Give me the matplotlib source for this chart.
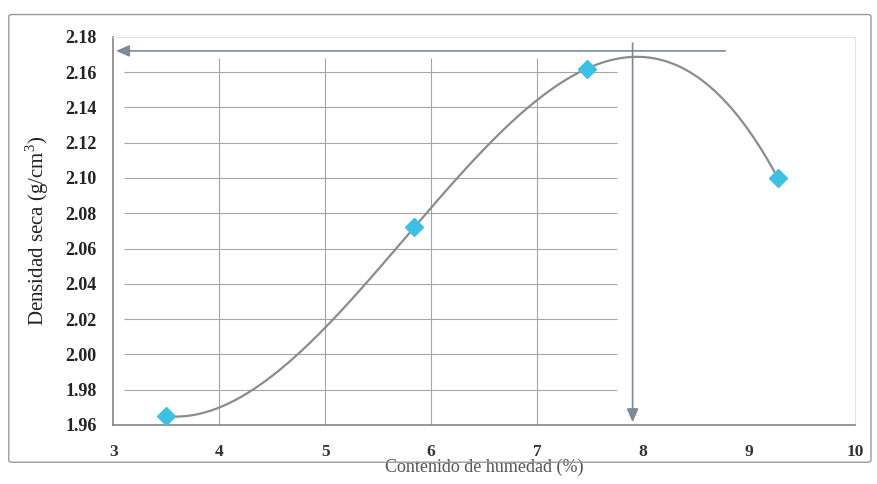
import numpy as np
import matplotlib
matplotlib.use("Agg")
import matplotlib.pyplot as plt
from matplotlib.patches import FancyBboxPatch

# ---- data ----
humedad = [3.5, 5.84, 7.47, 9.27]
densidad = [1.965, 2.072, 2.162, 2.100]
opt_humedad = 7.9
max_densidad = 2.172
x_ticks = [3, 4, 5, 6, 7, 8, 9, 10]
y_ticks = [1.96, 1.98, 2.00, 2.02, 2.04, 2.06, 2.08, 2.10, 2.12, 2.14, 2.16, 2.18]
y_tick_labels = ["1.96", "1.98", "2.00", "2.02", "2.04", "2.06", "2.08", "2.10",
                 "2.12", "2.14", "2.16", "2.18"]
x_label = "Contenido de humedad (%)"
y_label = "Densidad seca (g/cm$^3$)"

plt.rcParams['font.family'] = ['Liberation Serif', 'DejaVu Serif']
plt.rcParams['mathtext.fontset'] = 'custom'
plt.rcParams['mathtext.rm'] = 'Liberation Serif'

fig = plt.figure(figsize=(8.78, 4.84), dpi=100)
fig.patch.set_facecolor("white")
frame = FancyBboxPatch((0.010, 0.045), 0.982, 0.925, boxstyle="round,pad=0,rounding_size=0.004",
                       transform=fig.transFigure, facecolor="none", edgecolor="#9a9a9a", lw=1.0)
fig.patches.append(frame)

ax = fig.add_axes([0.129, 0.122, 0.845, 0.802])
ax.set_xlim(3, 10)
ax.set_ylim(1.96, 2.18)

# partial grid as in the scanned chart
for yv in y_ticks[1:-1]:
    ax.hlines(yv, 3.1, 7.75, color="#a5a5a5", lw=0.8, zorder=1)
for xv in [4, 5, 6, 7]:
    ax.vlines(xv, 1.96, 2.168, color="#a5a5a5", lw=0.8, zorder=1)

# smooth curve (cubic trend through the points)
coef = np.polyfit(humedad, densidad, 3)
xs = np.linspace(min(humedad), max(humedad), 300)
ax.plot(xs, np.polyval(coef, xs), color="#8c8c8c", lw=1.6, zorder=3)
ax.plot(humedad, densidad, linestyle="none", marker="D", markersize=9,
        color="#3cc0e4", markeredgecolor="#3cc0e4", zorder=4)

# arrows to axes
arrow_col = "#7d8a98"
ax.annotate("", xy=(3.0, max_densidad), xytext=(8.8, max_densidad),
            arrowprops=dict(arrowstyle="-|>,head_length=0.8,head_width=0.35",
                            color=arrow_col, lw=1.2), zorder=2)
ax.annotate("", xy=(opt_humedad, 1.96), xytext=(opt_humedad, 2.178),
            arrowprops=dict(arrowstyle="-|>,head_length=0.8,head_width=0.35",
                            color=arrow_col, lw=1.2), zorder=2)

ax.set_xticks(x_ticks)
ax.set_xticklabels([str(v) for v in x_ticks], fontsize=12.5, fontweight="bold", color="#333333")
ax.set_yticks(y_ticks)
ax.set_yticklabels(y_tick_labels, fontsize=13, fontweight="bold", color="#222222")
ax.tick_params(axis="x", length=0, pad=14)
ax.tick_params(axis="y", length=0, pad=12)

for side in ["top", "right"]:
    ax.spines[side].set_color("#e4e4e4")
for side in ["left", "bottom"]:
    ax.spines[side].set_color("#7a7a7a")
    ax.spines[side].set_linewidth(1.1)

ax.set_xlabel(x_label, fontsize=13, color="#555555", labelpad=-1)
ax.set_ylabel(y_label, fontsize=15, color="#222222", labelpad=10)

fig.savefig("out.png", dpi=100, facecolor="white")
